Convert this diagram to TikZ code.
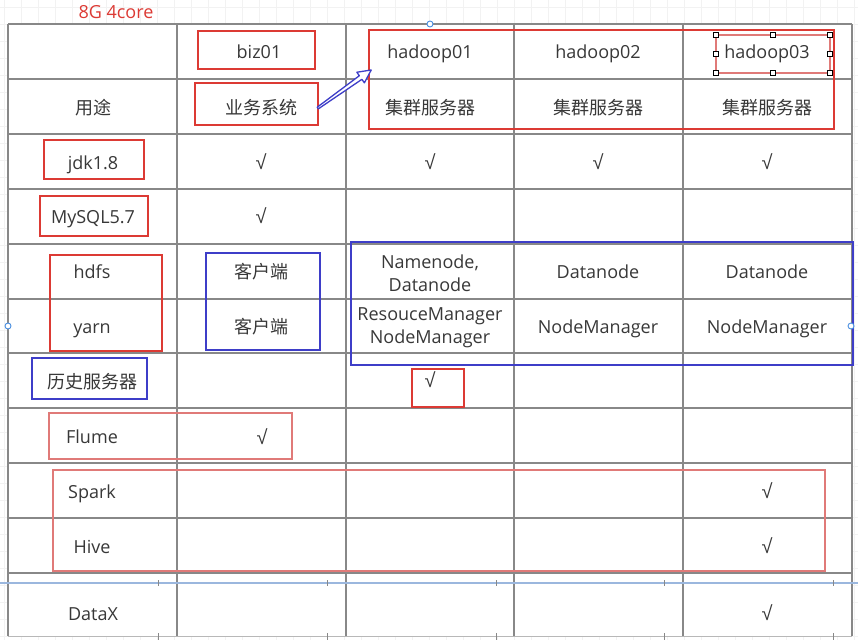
\documentclass[tikz,border=0pt]{standalone}
\usepackage{fontspec}
\setmainfont{Open Sans}
\newfontfamily\cjk{Noto Sans CJK SC}
\newfontfamily\ckfont{Liberation Sans}
\usetikzlibrary{calc}
\definecolor{tline}{HTML}{888888}
\definecolor{txt}{HTML}{383838}
\definecolor{rbox}{HTML}{DC3A34}
\definecolor{lrbox}{HTML}{E07A78}
\definecolor{bbox}{HTML}{3E3EC8}
\definecolor{hblue}{HTML}{4A8FE0}
\definecolor{gridc}{HTML}{F2F2F2}
\definecolor{sepblue}{HTML}{9BB7DE}
\tikzset{
  tl/.style={draw=tline, line width=1.4pt},
  lbl/.style={inner sep=0pt, text=txt, font=\fontsize{18}{23}\selectfont, align=center},
  one/.style={text height=17pt, text depth=4pt},
  cjkl/.style={inner sep=0pt, text=txt, font=\cjk\fontsize{18}{23}\selectfont},
  ck/.style={inner sep=0pt, text=txt, font=\ckfont\fontsize{20}{22}\selectfont},
  redbox/.style={draw=rbox, line width=1.6pt, inner sep=0pt},
  lredbox/.style={draw=lrbox, line width=1.4pt, inner sep=0pt},
  bluebox/.style={draw=bbox, line width=1.5pt, inner sep=0pt},
  handle/.style={draw=black, fill=white, line width=0.6pt, minimum size=5pt, inner sep=0pt},
  bhandle/.style={circle, draw=hblue, fill=white, line width=0.9pt, minimum size=6pt, inner sep=0pt},
}
\newcommand{\bx}[6]{\node[#1, minimum width=#4pt-#2pt, minimum height=#5pt-#3pt] (#6) at ({(#2+#4)/2},{(#3+#5)/2}) {};}
\begin{document}
\begin{tikzpicture}[x=1pt,y=-1pt]
\useasboundingbox (0,0) rectangle (858,640);
\fill[white] (0,0) rectangle (858,640);
% background grid
\foreach \gx in {4,21,38,55,72,...,858} \draw[gridc, line width=0.6pt] (\gx,0) -- (\gx,640);
\foreach \gy in {7,24,41,58,75,...,640} \draw[gridc, line width=0.6pt] (0,\gy) -- (858,\gy);
% table
\fill[white] (8,24) rectangle (852,636);
\foreach \ry in {24,79,134,189,244,299,353,408,463,518,573} \draw[tl] (8,\ry) -- (852,\ry);
\foreach \cx in {8,177,346,514,683,852} \draw[tl] (\cx,24) -- (\cx,636);
\draw[draw=tline!60, line width=1pt] (8,636) -- (852,636);
\draw[sepblue, line width=2.6pt] (0,583) -- (858,583);
\foreach \tx in {158,327,496,664,833} {\draw[tline, line width=0.8pt] (\tx,580) -- (\tx,586); \draw[tline, line width=0.8pt] (\tx,633) -- (\tx,640);}
% title
\node[inner sep=0pt, text=rbox, font=\fontsize{18}{20}\selectfont] (title) at (116,12) {8G 4core};
% boxes
\bx{redbox}{198}{31}{315}{69}{bizbox}
\bx{redbox}{195}{83}{318}{125}{usebox}
\bx{redbox}{369}{30}{834}{129}{hadbox}
\bx{lredbox}{716}{35}{830}{73}{h3box}
\bx{redbox}{44}{140}{144}{179}{jdkbox}
\bx{redbox}{40}{196}{148}{236}{mysqlbox}
\bx{redbox}{50}{255}{162}{351}{hybox}
\bx{bluebox}{206}{253}{320}{350}{clibox}
\bx{bluebox}{351}{242}{853}{365}{hdfsbox}
\bx{bluebox}{32}{358}{147}{399}{histbox}
\bx{redbox}{412}{369}{464}{407}{ckbox}
\bx{lredbox}{49}{413}{292}{459}{flumebox}
\bx{lredbox}{53}{470}{825}{571}{shbox}
% handles
\foreach \hx/\hy [count=\i] in {716/35,773/35,830/35,716/54,830/54,716/73,773/73,830/73} \node[handle] (hh\i) at (\hx,\hy) {};
\node[bhandle] (bh1) at (430,24) {};
\node[bhandle] (bh2) at (8,326) {};
\node[bhandle] (bh3) at (851,326) {};
% row 0
\node[lbl, one] (biz) at (259,52) {biz01};
\node[lbl, one] (h1) at (430,52) {hadoop01};
\node[lbl, one] (h2) at (598,52) {hadoop02};
\node[lbl, one] (h3) at (767,52) {hadoop03};
% row 1
\node[cjkl] (yt) at (93,108) {用途};
\node[cjkl] (ywxt) at (261,108) {业务系统};
\node[cjkl] (jq1) at (430,108) {集群服务器};
\node[cjkl] (jq2) at (598,108) {集群服务器};
\node[cjkl] (jq3) at (767,108) {集群服务器};
% row 2
\node[lbl, one] (jdk) at (93,163) {jdk1.8};
\node[ck] (c21) at (261,162) {√};
\node[ck] (c22) at (430,162) {√};
\node[ck] (c23) at (598,162) {√};
\node[ck] (c24) at (767,162) {√};
% row 3
\node[lbl, one] (mysql) at (93,217) {MySQL5.7};
\node[ck] (c31) at (261,216) {√};
% row 4/5
\node[lbl, one] (hdfs) at (92,272) {hdfs};
\node[lbl, one] (yarn) at (92,327) {yarn};
\node[cjkl] (kh1) at (261,272) {客户端};
\node[cjkl] (kh2) at (261,327) {客户端};
\node[lbl] (nn) at (430,273) {Namenode,\\Datanode};
\node[lbl, one] (dn2) at (598,272) {Datanode};
\node[lbl, one] (dn3) at (767,272) {Datanode};
\node[lbl] (rm) at (430,328) {ResouceManager\\NodeManager};
\node[lbl, one] (nm2) at (598,327) {NodeManager};
\node[lbl, one] (nm3) at (767,327) {NodeManager};
% row 6
\node[cjkl] (hist) at (92,382) {历史服务器};
\node[ck] (c62) at (430,380) {√};
% row 7
\node[lbl, one] (flume) at (92,437) {Flume};
\node[ck] (c71) at (262,437) {√};
% row 8/9
\node[lbl, one] (spark) at (92,492) {Spark};
\node[ck] (c84) at (767,491) {√};
\node[lbl, one] (hive) at (92,547) {Hive};
\node[ck] (c94) at (767,546) {√};
% DataX
\node[lbl, one] (datax) at (93,614) {DataX};
\node[ck] (cx4) at (767,613) {√};
% arrow
\coordinate (arrS) at ($(usebox.east)+(-1,4)$);
\coordinate (arrE) at ($(hadbox.west)+(3,-9.5)$);
\coordinate (hb) at ($(arrE)!13pt!(arrS)$);
\draw[bbox, line width=1.3pt, line join=round, fill=white]
  ($(arrS)!1pt!90:(arrE)$) -- ($(hb)!2.2pt!90:(arrE)$) -- ($(hb)!6.5pt!90:(arrE)$) -- (arrE)
  -- ($(hb)!6.5pt!-90:(arrE)$) -- ($(hb)!2.2pt!-90:(arrE)$) -- ($(arrS)!1pt!-90:(arrE)$) -- cycle;
\end{tikzpicture}
\end{document}
